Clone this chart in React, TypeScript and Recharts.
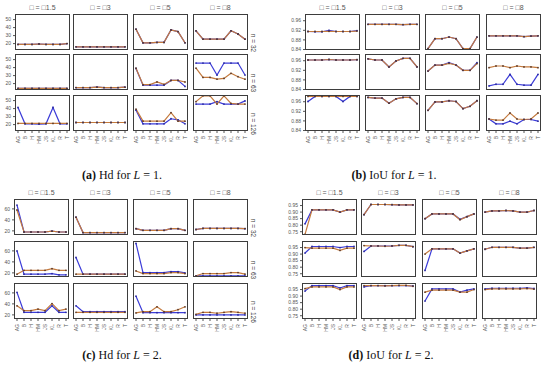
import React from "react";
import { LineChart, Line, XAxis, YAxis } from "recharts";

const measures = ["AG", "B", "H", "HM", "JS", "KL", "R", "T"];
const epsilons = ["1.5", "3", "5", "8"];
const sizes = ["32", "63", "126"];

// (a) Hd, L = 1
const hdL1Blue = [
  [[19, 19, 19, 19.5, 19, 19, 19, 20], [16, 16, 16, 16, 16, 16, 16, 16], [38, 21, 21, 21.5, 21.5, 37, 35, 21], [36, 25.5, 25.5, 25.5, 25.5, 36, 32, 25.5]],
  [[14, 14, 14, 14, 14, 14, 14, 14], [15, 15, 15, 15.5, 15, 15, 15, 15.5], [39, 18, 18, 18, 18, 24, 24, 16.5], [45.7, 45.7, 45.7, 30.7, 45.7, 45.7, 45.7, 30.7]],
  [[41.4, 21, 21, 20.5, 21, 41.4, 21, 21], [22.6, 22.6, 22.6, 22.6, 22.6, 22.6, 22.6, 22.6], [38, 21, 21, 21, 21, 27.3, 26, 21], [45.7, 45.7, 45.7, 48.7, 45.7, 45.7, 45.7, 49.6]],
];
const hdL1Orange = [
  [[19, 19, 19, 19.5, 19, 19, 19, 20], [16, 16, 16, 16, 16, 16, 16, 16], [38, 21, 21, 21.5, 21.5, 37, 35, 21], [36, 25.5, 25.5, 25.5, 25.5, 36, 32, 25.5]],
  [[14, 14, 14, 14, 14, 14, 14, 14], [15, 15, 15, 15.5, 15, 15, 15, 15.5], [39.3, 18.7, 18.7, 22, 19, 24, 24, 22], [39.3, 27.7, 27.7, 25.5, 26.5, 32.9, 28.6, 25.5]],
  [[21.5, 21.5, 21.5, 21.5, 21.5, 21.5, 21.5, 21.5], [22.6, 22.6, 22.6, 22.6, 22.6, 22.6, 22.6, 22.6], [39.3, 24.3, 24.3, 24.3, 24.3, 35, 24.3, 24.3], [48.7, 56, 56, 45.7, 56, 46.6, 45.7, 45.7]],
];

// (b) IoU, L = 1
const iouL1Blue = [
  [[0.915, 0.914, 0.914, 0.92, 0.915, 0.915, 0.915, 0.919], [0.945, 0.945, 0.945, 0.945, 0.945, 0.944, 0.945, 0.945], [0.844, 0.885, 0.885, 0.892, 0.885, 0.844, 0.844, 0.892], [0.897, 0.897, 0.897, 0.897, 0.897, 0.894, 0.896, 0.897]],
  [[0.963, 0.963, 0.963, 0.965, 0.963, 0.963, 0.963, 0.964], [0.968, 0.963, 0.963, 0.934, 0.959, 0.97, 0.97, 0.934], [0.917, 0.942, 0.942, 0.952, 0.942, 0.92, 0.92, 0.952], [0.855, 0.862, 0.862, 0.903, 0.862, 0.858, 0.858, 0.903]],
  [[0.961, 0.982, 0.982, 0.982, 0.982, 0.961, 0.982, 0.982], [0.978, 0.975, 0.975, 0.954, 0.972, 0.978, 0.978, 0.952], [0.924, 0.959, 0.959, 0.964, 0.961, 0.931, 0.941, 0.964], [0.888, 0.868, 0.868, 0.879, 0.868, 0.886, 0.886, 0.879]],
];
const iouL1Orange = [
  [[0.915, 0.915, 0.915, 0.916, 0.915, 0.915, 0.915, 0.917], [0.945, 0.945, 0.945, 0.945, 0.945, 0.944, 0.945, 0.945], [0.844, 0.885, 0.885, 0.892, 0.885, 0.844, 0.844, 0.892], [0.897, 0.897, 0.897, 0.897, 0.897, 0.894, 0.896, 0.897]],
  [[0.963, 0.963, 0.963, 0.965, 0.963, 0.963, 0.963, 0.964], [0.968, 0.963, 0.963, 0.934, 0.959, 0.97, 0.97, 0.934], [0.917, 0.942, 0.942, 0.949, 0.942, 0.92, 0.92, 0.948], [0.931, 0.938, 0.938, 0.931, 0.938, 0.934, 0.934, 0.931]],
  [[0.982, 0.982, 0.982, 0.982, 0.982, 0.982, 0.982, 0.982], [0.978, 0.975, 0.975, 0.954, 0.972, 0.978, 0.978, 0.952], [0.924, 0.959, 0.959, 0.964, 0.961, 0.931, 0.941, 0.964], [0.888, 0.883, 0.883, 0.913, 0.888, 0.886, 0.888, 0.913]],
];

// (c) Hd, L = 2
const hdL2Blue = [
  [[67, 18, 18, 18, 18, 19.5, 18, 18], [45, 17, 17, 17, 17, 17, 17, 17], [24, 21, 21, 21, 21, 24, 24, 21], [22.5, 24.5, 24.5, 24.5, 24.5, 24.5, 24.5, 24]],
  [[60, 17.6, 17.6, 17.6, 17.6, 18.8, 16.5, 16.5], [48, 17.6, 17.6, 17.6, 17.6, 17.6, 17.6, 17.6], [73.5, 20.6, 20.6, 20.6, 20.6, 22.4, 22.4, 20], [14.7, 14.7, 14.7, 14.7, 14.7, 14.7, 14.7, 14.7]],
  [[61, 24.7, 24.7, 24.7, 24.7, 36.5, 24.7, 24.7], [36.5, 25.9, 25.9, 25.9, 25.9, 25.9, 25.9, 25.9], [54, 24, 24, 24, 24, 24, 24, 24], [20, 20, 20, 20, 20, 20, 20, 20]],
];
const hdL2Orange = [
  [[58, 18, 18, 18, 18, 19.5, 18, 18], [45, 17, 17, 17, 17, 17, 17, 17], [24, 21, 21, 21, 21, 24, 24, 21], [22.5, 24.5, 24.5, 24.5, 24.5, 24.5, 24.5, 24]],
  [[17.6, 24.7, 24.7, 24.7, 24.7, 27.6, 24.7, 24.7], [17.6, 17.6, 17.6, 17.6, 17.6, 17.6, 17.6, 17.6], [23.5, 18.8, 18.8, 18.8, 18.8, 20.6, 20.6, 18.8], [14.7, 18.8, 18.8, 18.8, 18.8, 20.6, 20.6, 17.6]],
  [[36.5, 27.6, 27.6, 30.6, 27.6, 40.6, 27.6, 30.6], [24.7, 24.7, 24.7, 24.7, 24.7, 24.7, 24.7, 24.7], [23.5, 25.9, 25.9, 34.7, 25.9, 25.9, 29.4, 34.7], [21, 24.7, 24.7, 23, 24.7, 25.9, 24.7, 23]],
];

// (d) IoU, L = 2
const iouL2Blue = [
  [[0.81, 0.917, 0.917, 0.917, 0.917, 0.9, 0.917, 0.917], [0.88, 0.958, 0.958, 0.958, 0.957, 0.955, 0.955, 0.955], [0.85, 0.886, 0.886, 0.886, 0.886, 0.845, 0.865, 0.886], [0.9, 0.909, 0.909, 0.912, 0.909, 0.9, 0.9, 0.912]],
  [[0.908, 0.958, 0.958, 0.958, 0.958, 0.95, 0.958, 0.958], [0.92, 0.962, 0.962, 0.962, 0.962, 0.967, 0.967, 0.957], [0.775, 0.94, 0.94, 0.94, 0.94, 0.908, 0.925, 0.94], [0.937, 0.952, 0.952, 0.952, 0.952, 0.945, 0.945, 0.952]],
  [[0.938, 0.98, 0.98, 0.98, 0.98, 0.962, 0.98, 0.98], [0.97, 0.98, 0.98, 0.98, 0.98, 0.98, 0.98, 0.977], [0.862, 0.955, 0.955, 0.955, 0.955, 0.93, 0.945, 0.955], [0.955, 0.96, 0.96, 0.96, 0.96, 0.96, 0.962, 0.958]],
];
const iouL2Orange = [
  [[0.73, 0.917, 0.917, 0.917, 0.917, 0.9, 0.917, 0.917], [0.88, 0.958, 0.958, 0.958, 0.957, 0.955, 0.955, 0.955], [0.85, 0.886, 0.886, 0.886, 0.886, 0.842, 0.865, 0.886], [0.9, 0.909, 0.909, 0.912, 0.909, 0.9, 0.9, 0.912]],
  [[0.95, 0.945, 0.945, 0.945, 0.945, 0.928, 0.945, 0.945], [0.965, 0.962, 0.962, 0.96, 0.962, 0.967, 0.967, 0.957], [0.9, 0.94, 0.94, 0.94, 0.94, 0.908, 0.925, 0.94], [0.937, 0.952, 0.952, 0.952, 0.952, 0.945, 0.945, 0.952]],
  [[0.957, 0.97, 0.97, 0.97, 0.97, 0.95, 0.97, 0.97], [0.98, 0.98, 0.98, 0.978, 0.98, 0.982, 0.982, 0.975], [0.93, 0.945, 0.945, 0.945, 0.945, 0.93, 0.93, 0.95], [0.95, 0.955, 0.955, 0.955, 0.955, 0.955, 0.958, 0.953]],
];

const hdL1Ticks = [20, 30, 40, 50];
const iouL1Ticks = [0.84, 0.88, 0.92, 0.96];
const hdL2Ticks = [20, 40, 60];
const iouL2Ticks = [0.75, 0.8, 0.85, 0.9, 0.95];

const BLUE = "#3c3cd8";
const ORANGE = "#c47a3e";
const PW = 55;
const PH = 36;
const XAH = 16;
const PAD = 4; // spare room so edge tick labels are not clipped

const RotTick = (props: any) => {
  const { x, y, payload } = props;
  return (
    <text x={x} y={y + 1} transform={`rotate(-90, ${x}, ${y + 1})`} textAnchor="end" dominantBaseline="central"
      fontSize={5} fill="#555" fontFamily="Liberation Sans, Arial">
      {payload.value}
    </text>
  );
};

function Facet({ colX, rowY, left, blue, orange, domain, ticks, fmt, strips }: any) {
  const yw = colX[0] - left;
  const out: any[] = [];
  rowY.forEach((py: number, r: number) => {
    colX.forEach((px: number, c: number) => {
      const first = c === 0;
      const last = r === rowY.length - 1;
      const data = measures.map((m, i) => ({ m, blue: blue[r][c][i], orange: orange[r][c][i] }));
      out.push(
        <div key={`c${r}${c}`} style={{ position: "absolute", left: first ? px - yw : px, top: py - PAD }}>
          <LineChart width={first ? PW + yw : PW} height={PH + PAD + (last ? XAH : PAD)} data={data}
            margin={{ top: PAD, right: 0, bottom: last ? 0 : PAD, left: 0 }}>
            <XAxis dataKey="m" hide={!last} height={XAH} interval={0} tick={<RotTick />} tickSize={2}
              tickLine={{ stroke: "#555" }} axisLine={false} padding={{ left: 3, right: 3 }} />
            <YAxis domain={domain} ticks={ticks} interval={0} allowDataOverflow hide={!first} width={yw} tickSize={2}
              tickLine={{ stroke: "#555" }} axisLine={false} tickFormatter={fmt}
              tick={{ fontSize: 5, fill: "#555", fontFamily: "Liberation Sans, Arial" }} />
            <Line dataKey="blue" stroke={BLUE} strokeWidth={1.2} isAnimationActive={false}
              dot={{ r: 0.9, fill: "#2a2aa0", stroke: "none" }} />
            <Line dataKey="orange" stroke={ORANGE} strokeWidth={1.2} isAnimationActive={false}
              dot={{ r: 0.9, fill: "#5e3b28", stroke: "none" }} />
          </LineChart>
        </div>
      );
      out.push(
        <div key={`b${r}${c}`} style={{ position: "absolute", left: px, top: py, width: PW, height: PH,
          border: "1.3px solid #3d3d3d", boxSizing: "border-box", pointerEvents: "none" }} />
      );
    });
    if (strips) {
      out.push(
        <div key={`s${r}`} style={{ position: "absolute", left: colX[3] + PW + 1, top: py + PH / 2 - 4,
          width: 30, height: 8, lineHeight: "8px", fontSize: 6.5, color: "#444", textAlign: "center",
          transform: "rotate(90deg)", transformOrigin: "4px 4px", fontFamily: "Liberation Sans, Arial",
          whiteSpace: "nowrap" }}>
          {`n = ${sizes[r]}`}
        </div>
      );
    }
  });
  colX.forEach((px: number, c: number) => {
    out.push(
      <div key={`h${c}`} style={{ position: "absolute", left: px, top: rowY[0] - 10, width: PW,
        textAlign: "center", fontSize: 7, color: "#555", fontFamily: "Liberation Sans, Arial" }}>
        {`□ = □${epsilons[c]}`}
      </div>
    );
  });
  return <>{out}</>;
}

function Caption({ cx, cy, tag, metric, l }: any) {
  return (
    <div style={{ position: "absolute", left: cx - 60, top: cy - 7, width: 120, textAlign: "center",
      fontFamily: "Liberation Serif, serif", fontSize: 12, color: "#111", whiteSpace: "nowrap" }}>
      <b>({tag})</b> {metric} for <i>L</i> = {l}.
    </div>
  );
}

const f0 = (v: number) => String(v);
const f2 = (v: number) => v.toFixed(2);

export default function App() {
  return (
    <div style={{ position: "absolute", left: 0, top: 0, width: 550, height: 373, background: "#fff", overflow: "hidden" }}>
      <Facet colX={[15, 73, 133, 193]} rowY={[14, 54, 95]} left={0} blue={hdL1Blue} orange={hdL1Orange}
        domain={[12, 57]} ticks={hdL1Ticks} fmt={f0} strips />
      <Facet colX={[305, 365, 425, 486]} rowY={[14, 54, 95]} left={285} blue={iouL1Blue} orange={iouL1Orange}
        domain={[0.838, 0.988]} ticks={iouL1Ticks} fmt={f2} />
      <Facet colX={[14, 73, 133, 193]} rowY={[199, 241, 283]} left={0} blue={hdL2Blue} orange={hdL2Orange}
        domain={[12.5, 78]} ticks={hdL2Ticks} fmt={f0} strips />
      <Facet colX={[302, 361, 422, 482]} rowY={[199, 241, 283]} left={283} blue={iouL2Blue} orange={iouL2Orange}
        domain={[0.725, 1.0]} ticks={iouL2Ticks} fmt={f2} />
      <Caption cx={122} cy={175} tag="a" metric="Hd" l={1} />
      <Caption cx={394} cy={175} tag="b" metric="IoU" l={1} />
      <Caption cx={122} cy={355} tag="c" metric="Hd" l={2} />
      <Caption cx={391} cy={355} tag="d" metric="IoU" l={2} />
    </div>
  );
}
